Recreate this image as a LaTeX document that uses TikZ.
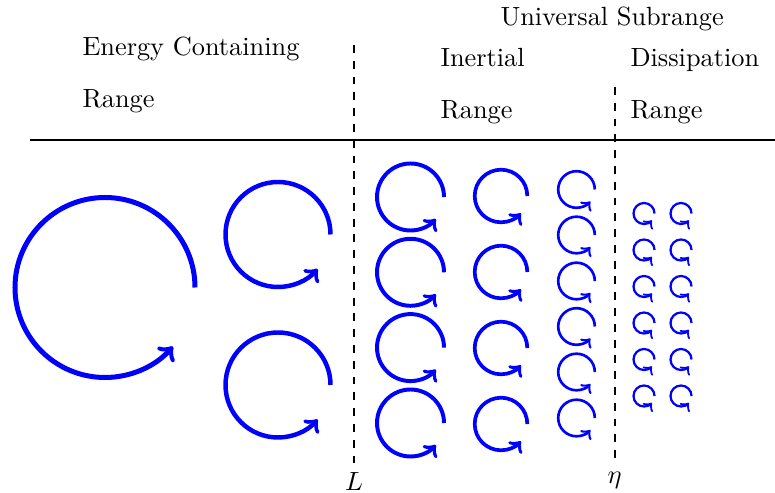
\documentclass[tikz,border=0pt]{standalone}
\begin{document}
\begin{tikzpicture}[
    x=0.38pt, y=0.38pt,
    pics/eddy/.style={code={\draw[-to] (#1,0) arc[start angle=0, end angle=319, radius=#1];}},
    heading/.style={anchor=base west, inner sep=0pt},
    divider/.style={dashed, line width=0.75pt}
]
\useasboundingbox (0,0) rectangle (775,493);
% range headings
\node[heading] (universal) at (500,467) {Universal Subrange};
\node[heading] (energy) at (82,437) {Energy Containing};
\node[heading] (energyrange) at (82,385) {Range};
\node[heading] (inertial) at (440,426) {Inertial};
\node[heading] (inertialrange) at (440,374) {Range};
\node[heading] (dissipation) at (630,426) {Dissipation};
\node[heading] (dissipationrange) at (630,374) {Range};
\coordinate (ruleleft) at (30,353);
\coordinate (ruleright) at (775,353);
\draw[line width=1pt] (ruleleft) -- (ruleright);
% length scales
\coordinate (Ltop) at (354,448);
\node (Llabel) [anchor=north] at (354,30) {$L$};
\draw[divider] (Ltop) -- (Llabel.north);
\coordinate (etatop) at (614.5,406);
\node (etalabel) [anchor=north] at (614.5,30) {$\eta$};
\draw[divider] (etatop) -- (etalabel.north);
% eddies
\pic[blue, line width=1.9pt] at (105,205.5) {eddy=90};
\foreach \y in {258.5,108}
    \pic[blue, line width=1.7pt] at (278,\y) {eddy=52.5};
\foreach \y in {296,220.7,145.4,70}
    \pic[blue, line width=1.5pt] at (410.5,\y) {eddy=33.5};
\foreach \y in {297,221,145,69}
    \pic[blue, line width=1.4pt] at (501,\y) {eddy=26.3};
\foreach \y in {303.5,258,212,166.5,121,75}
    \pic[blue, line width=1pt] at (576.5,\y) {eddy=18.3};
\foreach \x in {644,681}
    \foreach \y in {279.5,243,206.5,170,133.5,97}
        \pic[blue, line width=0.85pt] at (\x,\y) {eddy=10.5};
\end{tikzpicture}
\end{document}
